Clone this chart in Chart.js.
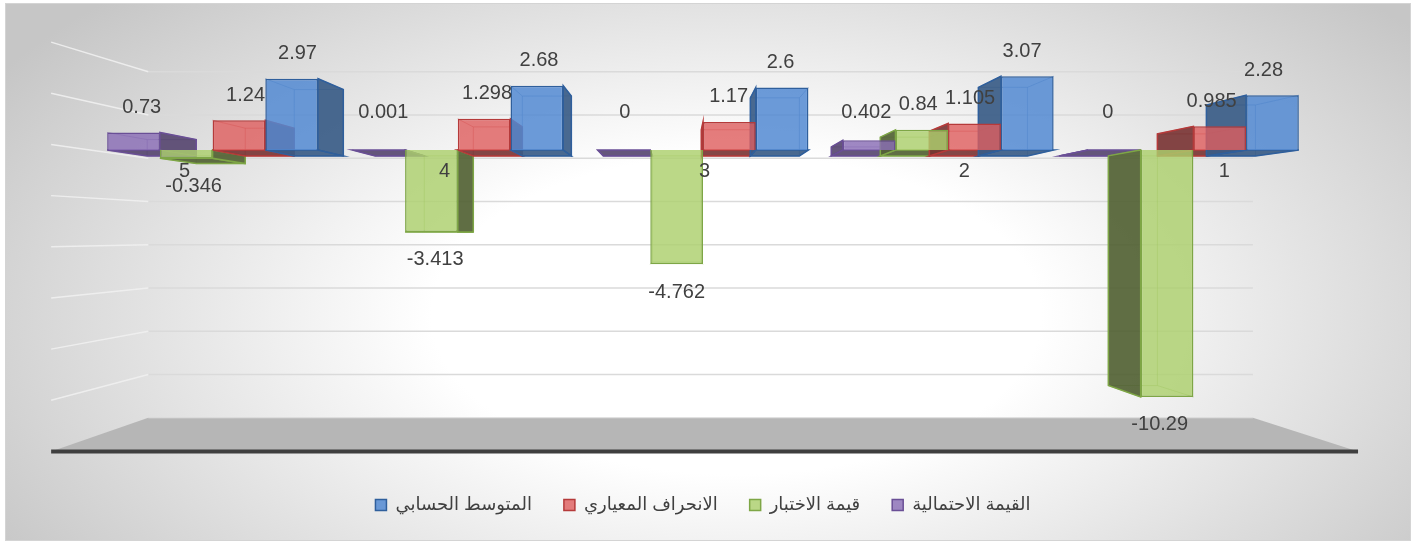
<!DOCTYPE html>
<html>
<head>
<meta charset="utf-8">
<script src="https://cdn.jsdelivr.net/npm/chart.js@4.4.1/dist/chart.umd.min.js"></script>
<style>
html, body { margin: 0; padding: 0; background: #fff; }
#box {
    position: absolute; left: 5px; top: 3px; width: 1404px; height: 536px;
    border: 1px solid #d4d4d4;
    background: radial-gradient(ellipse 62% 85% at 52% 58%, #ffffff 35%, #c6c6c6 100%);
}
#chart { position: absolute; left: 0; top: 0; }
</style>
</head>
<body>
<div id="box"></div>
<canvas id="chart" width="1417" height="546"></canvas>
<script>
// values, category 1 is drawn at the right
const categories = ['1', '2', '3', '4', '5'];
const meanValues = [2.28, 3.07, 2.6, 2.68, 2.97];
const sdValues = [0.985, 1.105, 1.17, 1.298, 1.24];
const testValues = [-10.29, 0.84, -4.762, -3.413, -0.346];
const pValues = [0, 0.402, 0, 0.001, 0.73];
const seriesNames = ['المتوسط الحسابي', 'الانحراف المعياري', 'قيمة الاختبار', 'القيمة الاحتمالية'];
const yTicks = [-12, -10, -8, -6, -4, -2, 0, 2, 4];

const textColor = '#404040';
const VP = { x: 679, y: 234 };   // vanishing point of the fake 3D
const BACK = 0.901, FRONT = 1.066, DEPTH = 0.93;
const PLOT_BOTTOM = 438, PAD_BOTTOM = 22;

function proj(x, y, s) {
    return [VP.x + (x - VP.x) * s, VP.y + (y - VP.y) * s];
}
function poly(ctx, pts) {
    ctx.beginPath();
    ctx.moveTo(pts[0][0], pts[0][1]);
    for (let i = 1; i < pts.length; i++) ctx.lineTo(pts[i][0], pts[i][1]);
    ctx.closePath();
}

// walls, gridlines and floor
const walls = {
    id: 'walls',
    beforeDatasetsDraw(chart) {
        const { ctx, chartArea: a } = chart;
        const y = chart.scales.y;
        ctx.save();
        yTicks.slice(1).forEach(v => {
            const py = y.getPixelForValue(v);
            const l = proj(a.left, py, BACK), r = proj(a.right, py, BACK), f = proj(a.left, py, FRONT);
            ctx.strokeStyle = '#dadada';
            ctx.lineWidth = 1.5;
            ctx.beginPath(); ctx.moveTo(l[0], l[1]); ctx.lineTo(r[0], r[1]); ctx.stroke();
            ctx.strokeStyle = 'rgba(240,240,240,0.9)';
            ctx.beginPath(); ctx.moveTo(f[0], f[1]); ctx.lineTo(l[0], l[1]); ctx.stroke();
        });
        const pb = y.getPixelForValue(yTicks[0]);
        const fl = proj(a.left, pb, FRONT), fr = proj(a.right, pb, FRONT);
        const bl = proj(a.left, pb, BACK), br = proj(a.right, pb, BACK);
        ctx.fillStyle = '#b6b6b6';
        poly(ctx, [fl, fr, br, bl]);
        ctx.fill();
        ctx.strokeStyle = '#dcdcdc';
        ctx.lineWidth = 1;
        ctx.beginPath(); ctx.moveTo(bl[0], bl[1]); ctx.lineTo(br[0], br[1]); ctx.stroke();
        ctx.strokeStyle = '#3f3f3f';
        ctx.lineWidth = 4;
        ctx.beginPath(); ctx.moveTo(fl[0], fl[1]); ctx.lineTo(fr[0], fr[1]); ctx.stroke();
        ctx.restore();
    }
};

// side faces of the columns, drawn behind the front faces
const boxes = {
    id: 'boxes',
    beforeDatasetsDraw(chart) {
        const ctx = chart.ctx;
        ctx.save();
        chart.data.datasets.forEach((ds, di) => {
            const meta = chart.getDatasetMeta(di);
            meta.data.forEach(el => {
                const p = el.getProps(['x', 'y', 'base', 'width'], true);
                const x0 = p.x - p.width / 2, x1 = p.x + p.width / 2;
                const t = Math.min(p.y, p.base), b = Math.max(p.y, p.base);
                const f = [[x0, t], [x1, t], [x1, b], [x0, b]];
                const k = f.map(q => proj(q[0], q[1], DEPTH));
                ctx.strokeStyle = ds.borderColor;
                ctx.lineWidth = 1;
                ctx.globalAlpha = 0.5;
                poly(ctx, k);
                ctx.stroke();
                for (let i = 0; i < 4; i++) {
                    ctx.beginPath(); ctx.moveTo(f[i][0], f[i][1]); ctx.lineTo(k[i][0], k[i][1]); ctx.stroke();
                }
                ctx.globalAlpha = 1;
                const faces = [];
                if (k[0][1] < f[0][1]) faces.push([f[0], f[1], k[1], k[0]]);
                if (k[3][1] > f[3][1]) faces.push([f[3], f[2], k[2], k[3]]);
                if (k[1][0] > f[1][0]) faces.push([f[1], f[2], k[2], k[1]]);
                if (k[0][0] < f[0][0]) faces.push([f[0], f[3], k[3], k[0]]);
                faces.forEach(face => {
                    ctx.fillStyle = ds.sideColor;
                    poly(ctx, face);
                    ctx.fill();
                    ctx.lineWidth = 1.5;
                    ctx.stroke();
                });
            });
        });
        ctx.restore();
    }
};

// value labels and category labels
const labels = {
    id: 'labels',
    afterDatasetsDraw(chart) {
        const ctx = chart.ctx;
        const y = chart.scales.y, x = chart.scales.x;
        const zero = y.getPixelForValue(0);
        ctx.save();
        ctx.font = '20px "Liberation Sans", Arial, sans-serif';
        ctx.fillStyle = textColor;
        ctx.textAlign = 'center';
        ctx.textBaseline = 'middle';
        categories.forEach((c, i) => {
            const cx = x.getPixelForValue(i);
            const q = proj(cx, zero, 1.06);
            ctx.fillText(c, q[0], zero + 21);
        });
        chart.data.datasets.forEach((ds, di) => {
            chart.getDatasetMeta(di).data.forEach((el, i) => {
                const v = ds.data[i];
                let ly;
                if (v >= 0) ly = Math.min(el.y - 25, zero - 38);
                else ly = el.y + 28;
                ctx.fillText(String(v), el.x - (el.x - VP.x) * 0.015, ly);
            });
        });
        ctx.restore();
    }
};

new Chart(document.getElementById('chart'), {
    type: 'bar',
    data: {
        labels: categories,
        datasets: [
            { label: seriesNames[3], data: pValues, backgroundColor: 'rgba(138,110,182,0.82)', borderColor: '#6a4f96', sideColor: 'rgba(84,68,110,0.9)', borderWidth: 1.5 },
            { label: seriesNames[2], data: testValues, backgroundColor: 'rgba(172,208,108,0.82)', borderColor: '#7ea646', sideColor: 'rgba(82,98,52,0.92)', borderWidth: 1.5 },
            { label: seriesNames[1], data: sdValues, backgroundColor: 'rgba(222,92,92,0.8)', borderColor: '#b53a3a', sideColor: 'rgba(120,50,50,0.9)', borderWidth: 1.5 },
            { label: seriesNames[0], data: meanValues, backgroundColor: 'rgba(82,138,210,0.85)', borderColor: '#2f5f9c', sideColor: 'rgba(58,92,135,0.92)', borderWidth: 1.5 }
        ]
    },
    options: {
        responsive: false,
        animation: false,
        categoryPercentage: 0.86,
        barPercentage: 1.0,
        layout: { padding: { left: 90, right: 101, top: 54, bottom: PAD_BOTTOM } },
        scales: {
            x: {
                reverse: true,
                grid: { display: false },
                border: { display: false },
                ticks: { display: false },
                afterFit(scale) {
                    const lh = scale.chart.legend ? scale.chart.legend.height : 60;
                    scale.height = Math.max(0, 546 - PAD_BOTTOM - PLOT_BOTTOM - lh);
                }
            },
            y: {
                display: false,
                min: -12,
                max: 4,
                ticks: { stepSize: 2 }
            }
        },
        plugins: {
            legend: {
                position: 'bottom',
                reverse: true,
                labels: {
                    boxWidth: 11,
                    boxHeight: 11,
                    padding: 32,
                    color: textColor,
                    font: { size: 18, family: '"Liberation Sans", "DejaVu Sans", sans-serif' }
                }
            },
            tooltip: { enabled: false }
        }
    },
    plugins: [walls, boxes, labels]
});
</script>
</body>
</html>
